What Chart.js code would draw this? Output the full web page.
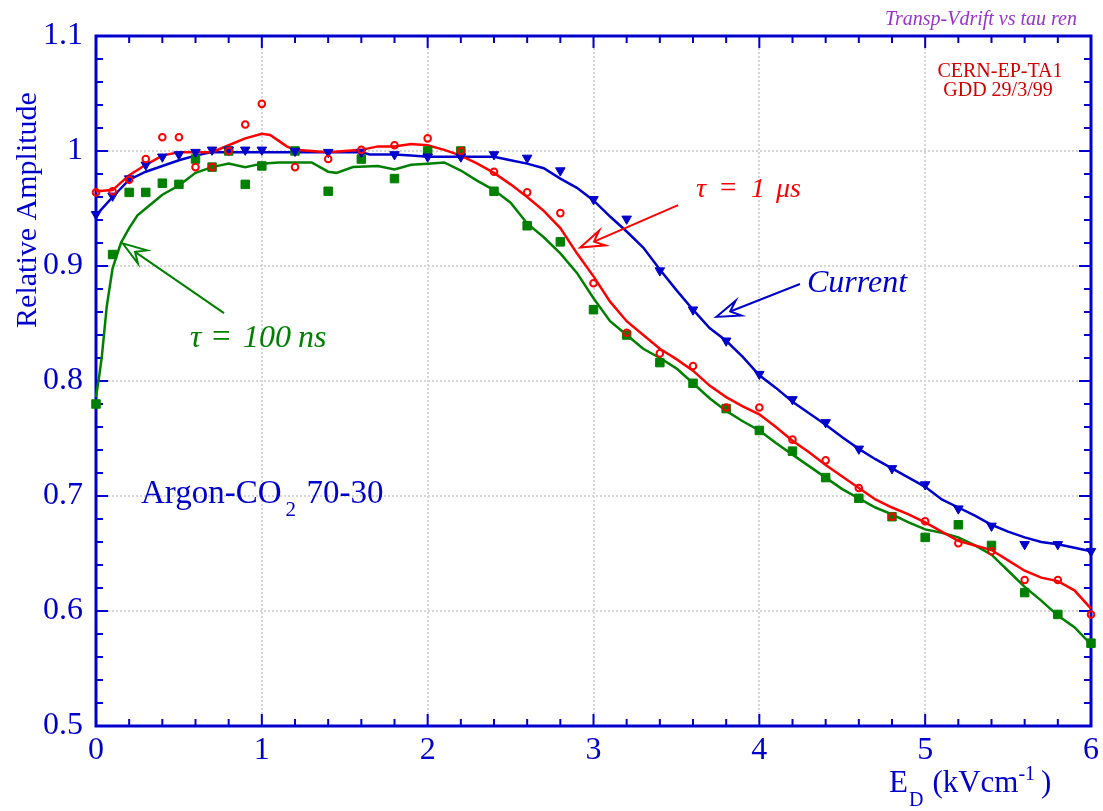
<!DOCTYPE html>
<html>
<head>
<meta charset="utf-8">
<script src="https://cdn.jsdelivr.net/npm/chart.js@4/dist/chart.umd.min.js"></script>
<style>
html, body { margin: 0; padding: 0; background: #fff; }
</style>
</head>
<body>
<canvas id="chart" width="1103" height="811"></canvas>
<script>
// drift field E_D (kV/cm) of the measured points
var fieldKV = [0, 0.1, 0.2, 0.3, 0.4, 0.5, 0.6, 0.7, 0.8, 0.9, 1.0, 1.2, 1.4, 1.6, 1.8, 2.0, 2.2, 2.4, 2.6, 2.8,
               3.0, 3.2, 3.4, 3.6, 3.8, 4.0, 4.2, 4.4, 4.6, 4.8, 5.0, 5.2, 5.4, 5.6, 5.8, 6.0];
var ampCurrent = [0.945, 0.961, 0.976, 0.988, 0.995, 0.997, 0.999, 1.001, 1.001, 1.001, 1.001, 1.000, 0.999, 0.999, 0.997, 0.995, 0.995, 0.997, 0.994, 0.983,
                  0.958, 0.941, 0.896, 0.862, 0.835, 0.806, 0.784, 0.764, 0.741, 0.724, 0.710, 0.689, 0.674, 0.658, 0.658, 0.652];
var ampTau1us = [0.964, 0.965, 0.975, 0.993, 1.012, 1.012, 0.986, 0.986, 1.000, 1.023, 1.041, 0.986, 0.993, 1.001, 1.005, 1.011, 1.000, 0.982, 0.964, 0.946,
                 0.885, 0.842, 0.824, 0.813, 0.777, 0.777, 0.749, 0.731, 0.707, 0.682, 0.678, 0.659, 0.652, 0.627, 0.627, 0.597];
var ampTau100ns = [0.780, 0.910, 0.964, 0.964, 0.972, 0.971, 0.993, 0.986, 1.000, 0.971, 0.987, 1.000, 0.965, 0.993, 0.976, 1.000, 1.000, 0.965, 0.935, 0.921,
                   0.862, 0.840, 0.816, 0.798, 0.776, 0.757, 0.739, 0.716, 0.698, 0.682, 0.664, 0.675, 0.657, 0.616, 0.597, 0.572];

// smoothed curves
var fitXCurrent = [0, 0.1, 0.2, 0.3, 0.4, 0.5, 0.6, 0.7, 0.8, 1.0, 1.2, 1.4, 1.6, 1.65, 1.8, 1.9, 2.0, 2.2, 2.4, 2.5,
                   2.6, 2.7, 2.8, 2.9, 3.0, 3.1, 3.2, 3.3, 3.4, 3.5, 3.6, 3.7, 3.8, 3.9, 4.0, 4.1, 4.2, 4.3, 4.4, 4.5,
                   4.6, 4.7, 4.8, 4.9, 5.0, 5.1, 5.2, 5.3, 5.4, 5.5, 5.6, 5.7, 5.8, 5.9, 6.0];
var fitCurrent = [0.944, 0.960, 0.975, 0.982, 0.987, 0.992, 0.996, 0.999, 0.999, 0.999, 0.999, 0.999, 0.999, 0.997, 0.997, 0.996, 0.995, 0.995, 0.995, 0.992,
                  0.989, 0.985, 0.976, 0.968, 0.957, 0.943, 0.930, 0.916, 0.897, 0.879, 0.862, 0.846, 0.835, 0.821, 0.805, 0.794, 0.782, 0.772, 0.762, 0.751,
                  0.741, 0.732, 0.724, 0.716, 0.708, 0.697, 0.690, 0.683, 0.675, 0.669, 0.664, 0.660, 0.658, 0.655, 0.652];

var fitXTau1us = [0, 0.1, 0.2, 0.3, 0.4, 0.5, 0.6, 0.7, 0.8, 0.9, 1.0, 1.05, 1.1, 1.15, 1.2, 1.4, 1.6, 1.7, 1.8, 1.9,
                  2.0, 2.1, 2.2, 2.3, 2.4, 2.5, 2.6, 2.7, 2.8, 2.9, 3.0, 3.1, 3.2, 3.3, 3.4, 3.5, 3.6, 3.7, 3.8, 3.9,
                  4.0, 4.1, 4.2, 4.3, 4.4, 4.5, 4.6, 4.7, 4.8, 4.9, 5.0, 5.1, 5.2, 5.3, 5.4, 5.5, 5.6, 5.7, 5.8, 5.9, 6.0];
var fitTau1us = [0.965, 0.966, 0.979, 0.988, 0.996, 0.999, 0.999, 0.999, 1.005, 1.011, 1.015, 1.014, 1.009, 1.004, 1.001, 0.999, 1.001, 1.004, 1.004, 1.006,
                 1.005, 1.001, 0.996, 0.989, 0.981, 0.971, 0.960, 0.948, 0.933, 0.911, 0.891, 0.869, 0.852, 0.840, 0.828, 0.819, 0.809, 0.796, 0.786, 0.778,
                 0.771, 0.760, 0.748, 0.738, 0.727, 0.717, 0.707, 0.697, 0.690, 0.684, 0.677, 0.669, 0.661, 0.657, 0.653, 0.644, 0.635, 0.629, 0.626, 0.618, 0.602];

var fitXTau100ns = [0, 0.02, 0.035, 0.065, 0.1, 0.15, 0.2, 0.25, 0.3, 0.4, 0.5, 0.6, 0.7, 0.8, 0.9, 1.0, 1.1, 1.3, 1.4, 1.45,
                    1.55, 1.7, 1.8, 1.9, 2.0, 2.1, 2.2, 2.3, 2.4, 2.5, 2.6, 2.7, 2.8, 2.9, 3.0, 3.1, 3.2, 3.3, 3.4, 3.5,
                    3.6, 3.7, 3.8, 3.9, 4.0, 4.1, 4.2, 4.3, 4.4, 4.5, 4.6, 4.7, 4.8, 4.9, 5.0, 5.1, 5.2, 5.3, 5.4, 5.5,
                    5.6, 5.7, 5.8, 5.9, 6.0];
var fitTau100ns = [0.786, 0.805, 0.821, 0.865, 0.898, 0.920, 0.933, 0.944, 0.950, 0.962, 0.970, 0.981, 0.986, 0.989, 0.986, 0.989, 0.990, 0.990, 0.982, 0.981,
                   0.986, 0.987, 0.984, 0.988, 0.989, 0.990, 0.983, 0.974, 0.966, 0.955, 0.937, 0.925, 0.911, 0.894, 0.872, 0.852, 0.840, 0.828, 0.820, 0.811,
                   0.798, 0.785, 0.774, 0.765, 0.757, 0.746, 0.736, 0.726, 0.716, 0.706, 0.698, 0.690, 0.684, 0.677, 0.671, 0.668, 0.664, 0.657, 0.649, 0.635,
                   0.621, 0.609, 0.596, 0.586, 0.571];

var xTicks = [0, 1, 2, 3, 4, 5, 6];
var yTicks = [0.5, 0.6, 0.7, 0.8, 0.9, 1.0, 1.1];

var BLUE = '#0000cc', RED = '#ff0000', GREEN = '#008000';
var SERIF = '"Liberation Serif", "Times New Roman", serif';

function pairs(xs, ys) {
    return xs.map(function(x, i) { return {x: x, y: ys[i]}; });
}

// text pieces laid out one after another: [text, x offset, font, y offset]
function pieces(ctx, list, x0, y0) {
    list.forEach(function(p) {
        ctx.font = p[2];
        ctx.fillText(p[0], x0 + p[1], y0 + (p[3] || 0));
    });
}

function arrow(ctx, x0, y0, x1, y1, color) {
    var ang = Math.atan2(y1 - y0, x1 - x0);
    var c = Math.cos(ang), s = Math.sin(ang);
    var len = 24, half = 8, notch = 15;
    var bx = x1 - c * len, by = y1 - s * len;
    var nx = x1 - c * notch, ny = y1 - s * notch;
    ctx.strokeStyle = color;
    ctx.lineWidth = 2;
    ctx.beginPath();
    ctx.moveTo(x0, y0);
    ctx.lineTo(nx, ny);
    ctx.stroke();
    ctx.beginPath();
    ctx.moveTo(x1, y1);
    ctx.lineTo(bx - s * half, by + c * half);
    ctx.lineTo(nx, ny);
    ctx.lineTo(bx + s * half, by - c * half);
    ctx.closePath();
    ctx.fillStyle = '#fff';
    ctx.fill();
    ctx.stroke();
}

var frame = {
    id: 'frame',
    beforeDatasetsDraw: function(chart) {
        var ctx = chart.ctx, a = chart.chartArea;
        var xs = chart.scales.x, ys = chart.scales.y;
        ctx.save();
        // dotted grid at the labelled ticks
        ctx.strokeStyle = '#d6d6d6';
        ctx.lineWidth = 2;
        ctx.setLineDash([2, 2]);
        xTicks.forEach(function(v) {
            var p = Math.round(xs.getPixelForValue(v));
            ctx.beginPath(); ctx.moveTo(p, a.top); ctx.lineTo(p, a.bottom); ctx.stroke();
        });
        yTicks.forEach(function(v) {
            var p = Math.round(ys.getPixelForValue(v));
            ctx.beginPath(); ctx.moveTo(a.left, p); ctx.lineTo(a.right, p); ctx.stroke();
        });
        ctx.setLineDash([]);

        // inward ticks on all four sides
        ctx.strokeStyle = BLUE;
        ctx.lineWidth = 2;
        ctx.beginPath();
        for (var i = 0; i <= 30; i++) {
            var px = xs.getPixelForValue(i * 0.2);
            var lx = i % 5 === 0 ? 12 : 7;
            ctx.moveTo(px, a.bottom); ctx.lineTo(px, a.bottom - lx);
            ctx.moveTo(px, a.top); ctx.lineTo(px, a.top + lx);
        }
        for (var j = 0; j <= 30; j++) {
            var py = ys.getPixelForValue(0.5 + j * 0.02);
            var ly = j % 5 === 0 ? 12 : 7;
            ctx.moveTo(a.left, py); ctx.lineTo(a.left + ly, py);
            ctx.moveTo(a.right, py); ctx.lineTo(a.right - ly, py);
        }
        ctx.stroke();
        ctx.lineWidth = 3;
        ctx.strokeRect(a.left, a.top, a.right - a.left, a.bottom - a.top);
        ctx.restore();
    },
    afterDatasetsDraw: function(chart) {
        var ctx = chart.ctx;
        var xs = chart.scales.x, ys = chart.scales.y;
        function X(v) { return xs.getPixelForValue(v); }
        function Y(v) { return ys.getPixelForValue(v); }
        ctx.save();
        ctx.textBaseline = 'alphabetic';
        ctx.textAlign = 'left';

        // curve labels
        var it28 = 'italic 28px ' + SERIF, up28 = '29px ' + SERIF;
        ctx.fillStyle = RED;
        pieces(ctx, [['\u03c4', 0, it28], ['=', 24, up28], ['1', 55, it28], ['\u03bcs', 80, it28]], 696, 197);
        arrow(ctx, X(3.51), Y(0.953), X(2.92), Y(0.916), RED);

        ctx.fillStyle = BLUE;
        ctx.font = 'italic 32px ' + SERIF;
        ctx.fillText('Current', 807, 292);
        arrow(ctx, X(4.245), Y(0.8843), X(3.74), Y(0.8557), BLUE);

        var it32 = 'italic 32px ' + SERIF, up32 = '33px ' + SERIF;
        ctx.fillStyle = GREEN;
        pieces(ctx, [['\u03c4', 0, it32], ['=', 22, up32], ['100', 53, it32], ['ns', 108, it32]], 190, 347);
        arrow(ctx, X(0.772), Y(0.859), X(0.161), Y(0.9197), GREEN);

        // gas mixture
        ctx.fillStyle = BLUE;
        var f33 = '33px ' + SERIF, f21 = '21px ' + SERIF;
        ctx.font = f33;
        var w1 = ctx.measureText('Argon-CO').width;
        pieces(ctx, [['Argon-CO', 0, f33], ['2', w1 + 4, f21, 13], ['70-30', w1 + 25, f33]], 141, 503);

        // header notes
        ctx.textAlign = 'center';
        ctx.font = '20px ' + SERIF;
        ctx.fillStyle = '#d00000';
        ctx.fillText('CERN-EP-TA1', 1000, 77);
        ctx.fillText('GDD 29/3/99', 998, 96);
        ctx.textAlign = 'right';
        ctx.font = 'italic 20px ' + SERIF;
        ctx.fillStyle = '#9932cc';
        ctx.fillText('Transp-Vdrift vs tau ren', 1077, 25);

        // axis titles
        ctx.fillStyle = BLUE;
        ctx.textAlign = 'left';
        ctx.font = '31px ' + SERIF;
        var tx = 889, ty = 792;
        ctx.fillText('E', tx, ty);
        tx += ctx.measureText('E').width;
        ctx.font = '20px ' + SERIF;
        ctx.fillText('D', tx + 1, ty + 14);
        tx += ctx.measureText('D').width + 10;
        ctx.font = '31px ' + SERIF;
        ctx.fillText('(kVcm', tx, ty);
        tx += ctx.measureText('(kVcm').width;
        ctx.font = '20px ' + SERIF;
        ctx.fillText('-1', tx, ty - 12);
        tx += ctx.measureText('-1').width + 6;
        ctx.font = '31px ' + SERIF;
        ctx.fillText(')', tx, ty);

        ctx.translate(36, 210);
        ctx.rotate(-Math.PI / 2);
        ctx.textAlign = 'center';
        ctx.font = '30px ' + SERIF;
        ctx.fillText('Relative Amplitude', 0, 0);
        ctx.restore();
    }
};

var tickFont = {family: SERIF, size: 32};

new Chart(document.getElementById('chart'), {
    type: 'scatter',
    data: {
        datasets: [
            {
                data: pairs(fieldKV, ampTau1us), order: 0, clip: false,
                pointStyle: 'circle', pointRadius: 3.3, borderWidth: 2,
                borderColor: RED, backgroundColor: 'rgba(0,0,0,0)'
            },
            {
                data: pairs(fieldKV, ampCurrent), order: 0, clip: false,
                pointStyle: 'triangle', rotation: 180, pointRadius: 5.5, borderWidth: 1,
                borderColor: BLUE, backgroundColor: BLUE
            },
            {
                data: pairs(fieldKV, ampTau100ns), order: 0, clip: false,
                pointStyle: 'rect', pointRadius: 6, borderWidth: 1,
                borderColor: GREEN, backgroundColor: GREEN
            },
            {
                data: pairs(fitXTau1us, fitTau1us), order: 1, showLine: true, pointRadius: 0,
                borderColor: RED, borderWidth: 2.5, tension: 0, clip: false
            },
            {
                data: pairs(fitXCurrent, fitCurrent), order: 1, showLine: true, pointRadius: 0,
                borderColor: BLUE, borderWidth: 2.5, tension: 0, clip: false
            },
            {
                data: pairs(fitXTau100ns, fitTau100ns), order: 1, showLine: true, pointRadius: 0,
                borderColor: GREEN, borderWidth: 2.5, tension: 0, clip: false
            }
        ]
    },
    options: {
        responsive: false,
        animation: false,
        events: [],
        layout: { padding: { top: 36, right: 12, left: 0, bottom: 0 } },
        plugins: { legend: { display: false }, tooltip: { enabled: false } },
        scales: {
            x: {
                type: 'linear', min: 0, max: 6,
                grid: { display: false }, border: { display: false },
                afterBuildTicks: function(s) { s.ticks = xTicks.map(function(v) { return {value: v}; }); },
                afterFit: function(s) { s.height = 85; },
                ticks: {
                    font: tickFont, color: BLUE, padding: -3, maxRotation: 0, autoSkip: false,
                    callback: function(v) { return String(v); }
                }
            },
            y: {
                type: 'linear', min: 0.5, max: 1.1,
                grid: { display: false }, border: { display: false },
                afterBuildTicks: function(s) { s.ticks = yTicks.map(function(v) { return {value: v}; }); },
                afterFit: function(s) { s.width = 96; },
                ticks: {
                    font: tickFont, color: BLUE, padding: 5, autoSkip: false,
                    callback: function(v) { return String(+v.toFixed(1)); }
                }
            }
        }
    },
    plugins: [frame]
});
</script>
</body>
</html>
